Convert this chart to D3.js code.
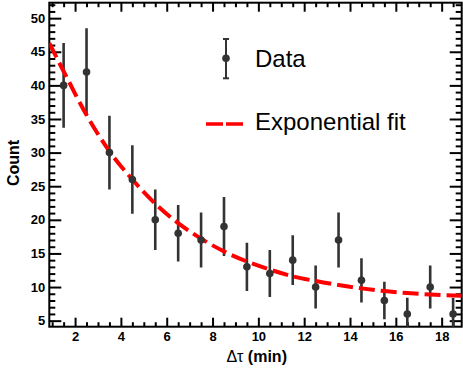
<!DOCTYPE html>
<html>
<head>
<meta charset="utf-8">
<script src="https://cdn.jsdelivr.net/npm/d3@7"></script>
<style>
  body { margin: 0; background: #fff; }
  svg { display: block; font-family: "Liberation Sans", Arial, sans-serif; }
</style>
</head>
<body>
<div id="chart"></div>
<script>
// bin centres (min) and counts with their error bars
const binCenters = [1.5, 2.5, 3.5, 4.5, 5.5, 6.5, 7.5, 8.5, 9.5, 10.5, 11.5, 12.5, 13.5, 14.5, 15.5, 16.5, 17.5, 18.5];
const counts     = [40, 42, 30, 26, 20, 18, 17, 19, 13, 12, 14, 10, 17, 11, 8, 6, 10, 6];
const errors     = [6.3, 6.5, 5.5, 5.1, 4.5, 4.2, 4.1, 4.4, 3.6, 3.5, 3.7, 3.2, 4.1, 3.3, 2.8, 2.4, 3.2, 2.4];

// exponential fit curve
const fitX = [0.875, 1.5, 2.5, 3.5, 4.5, 5.5, 6.5, 7.5, 8.5, 9.5, 10.5, 11.5, 12.5, 13.5, 14.5, 15.5, 16.5, 17.5, 18.875];
const fitY = [46.3, 42.1, 35.6, 30.2, 26.0, 22.4, 19.5, 17.2, 15.3, 13.8, 12.6, 11.6, 10.9, 10.3, 9.8, 9.4, 9.1, 8.9, 8.7];

const xRange = [0.875, 18.875];
const yRange = [4.1, 52.3];
const xMajor = [2, 4, 6, 8, 10, 12, 14, 16, 18];
const yMajor = [5, 10, 15, 20, 25, 30, 35, 40, 45, 50];

const legendLabels = ["Data", "Exponential fit"];

const W = 463, H = 368;
const m = { left: 49.3, right: 461.7, top: 2.7, bottom: 326.7 };

const svg = d3.select("#chart")
              .append("svg")
              .attr("width", W)
              .attr("height", H);

const x = d3.scaleLinear().domain(xRange).range([m.left, m.right]);
const y = d3.scaleLinear().domain(yRange).range([m.bottom, m.top]);

const xMinor = d3.range(1, 18.75, 0.5).filter(v => !xMajor.includes(v));
const yMinor = d3.range(5, 52.5, 1).filter(v => !yMajor.includes(v));

svg.append("clipPath")
   .attr("id", "plot-clip")
   .append("rect")
   .attr("x", m.left).attr("y", m.top)
   .attr("width", m.right - m.left).attr("height", m.bottom - m.top);

// axes: ticks pointing inward on all four sides
function axisStyle(g) {
  g.select(".domain").remove();
  g.selectAll(".tick line").attr("stroke", "#000").attr("stroke-width", 2);
  g.selectAll(".tick text")
   .attr("fill", "#000")
   .style("font-size", "13px")
   .style("font-weight", "bold");
}

svg.append("g")
   .attr("transform", `translate(0,${m.bottom})`)
   .call(d3.axisBottom(x).tickValues(xMajor).tickSize(-9).tickPadding(5).tickFormat(d3.format("d")))
   .call(axisStyle);
svg.append("g")
   .attr("transform", `translate(0,${m.bottom})`)
   .call(d3.axisBottom(x).tickValues(xMinor).tickSize(-4.5).tickFormat(""))
   .call(axisStyle);
svg.append("g")
   .attr("transform", `translate(0,${m.top})`)
   .call(d3.axisTop(x).tickValues(xMajor).tickSize(-9).tickFormat(""))
   .call(axisStyle);
svg.append("g")
   .attr("transform", `translate(0,${m.top})`)
   .call(d3.axisTop(x).tickValues(xMinor).tickSize(-4.5).tickFormat(""))
   .call(axisStyle);

svg.append("g")
   .attr("transform", `translate(${m.left},0)`)
   .call(d3.axisLeft(y).tickValues(yMajor).tickSize(-12).tickPadding(4).tickFormat(d3.format("d")))
   .call(axisStyle);
svg.append("g")
   .attr("transform", `translate(${m.left},0)`)
   .call(d3.axisLeft(y).tickValues(yMinor).tickSize(-6).tickFormat(""))
   .call(axisStyle);
svg.append("g")
   .attr("transform", `translate(${m.right},0)`)
   .call(d3.axisRight(y).tickValues(yMajor).tickSize(-12).tickFormat(""))
   .call(axisStyle);
svg.append("g")
   .attr("transform", `translate(${m.right},0)`)
   .call(d3.axisRight(y).tickValues(yMinor).tickSize(-6).tickFormat(""))
   .call(axisStyle);

// frame
svg.append("rect")
   .attr("x", m.left).attr("y", m.top)
   .attr("width", m.right - m.left).attr("height", m.bottom - m.top)
   .attr("fill", "none")
   .attr("stroke", "#000")
   .attr("stroke-width", 2);

const plot = svg.append("g").attr("clip-path", "url(#plot-clip)");

// data points with error bars
const pts = binCenters.map((c, i) => ({ x: c, y: counts[i], e: errors[i] }));

plot.selectAll("line.err")
    .data(pts)
    .join("line")
    .attr("class", "err")
    .attr("x1", d => x(d.x)).attr("x2", d => x(d.x))
    .attr("y1", d => y(d.y + d.e)).attr("y2", d => y(d.y - d.e))
    .attr("stroke", "#333")
    .attr("stroke-width", 2.6);

// fit line
const line = d3.line()
               .x(d => x(d[0]))
               .y(d => y(d[1]))
               .curve(d3.curveMonotoneX);

plot.append("path")
    .datum(fitX.map((v, i) => [v, fitY[i]]))
    .attr("d", line)
    .attr("fill", "none")
    .attr("stroke", "#ff0000")
    .attr("stroke-width", 4)
    .attr("stroke-dasharray", "16,6");

plot.selectAll("circle.pt")
    .data(pts)
    .join("circle")
    .attr("class", "pt")
    .attr("cx", d => x(d.x))
    .attr("cy", d => y(d.y))
    .attr("r", 3.8)
    .attr("fill", "#333");

// axis titles
svg.append("text")
   .attr("transform", "translate(18.5,163) rotate(-90)")
   .attr("text-anchor", "middle")
   .style("font-size", "16px")
   .style("font-weight", "bold")
   .text("Count");

const xt = svg.append("text")
   .attr("x", 256.7)
   .attr("y", 361.7)
   .attr("text-anchor", "middle")
   .style("font-size", "16px")
   .style("font-weight", "bold");
xt.append("tspan").style("font-weight", "normal").text("Δτ");
xt.append("tspan").text(" (min)");

// legend
const lg = svg.append("g");
lg.append("line")
  .attr("x1", 226).attr("x2", 226).attr("y1", 39).attr("y2", 78.3)
  .attr("stroke", "#333").attr("stroke-width", 2);
[39, 78.3].forEach(yy => {
  lg.append("line")
    .attr("x1", 223).attr("x2", 229).attr("y1", yy).attr("y2", yy)
    .attr("stroke", "#333").attr("stroke-width", 2);
});
lg.append("circle")
  .attr("cx", 226).attr("cy", 58.3).attr("r", 3.8).attr("fill", "#333");
lg.append("line")
  .attr("x1", 206).attr("x2", 243).attr("y1", 124).attr("y2", 124)
  .attr("stroke", "#ff0000").attr("stroke-width", 3.5)
  .attr("stroke-dasharray", "17,3");

lg.selectAll("text")
  .data(legendLabels)
  .join("text")
  .attr("x", 255)
  .attr("y", (d, i) => i === 0 ? 67.3 : 130)
  .style("font-size", "24px")
  .text(d => d);
</script>
</body>
</html>
